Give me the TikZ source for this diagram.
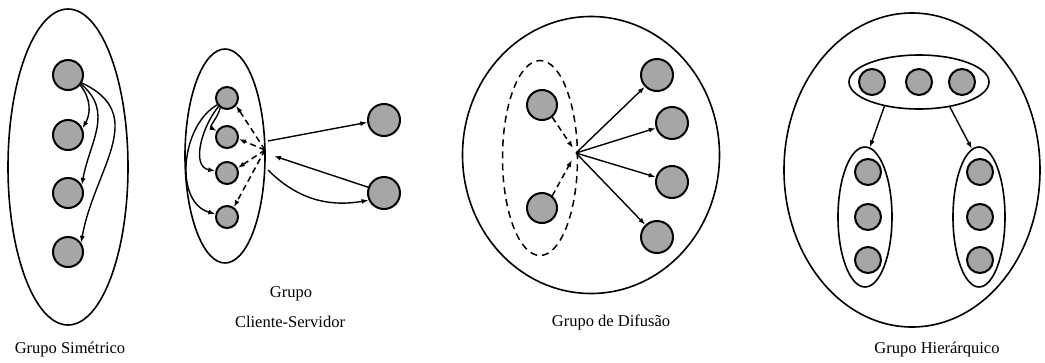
\documentclass[tikz,border=0pt]{standalone}
\usepackage{fontspec}
\setmainfont{Liberation Serif}
\usetikzlibrary{shapes.geometric,arrows.meta}
\tikzset{
  proc/.style={circle, draw=black, line width=2pt, fill=black!35, inner sep=0pt, minimum size=#1},
  proc/.default=30pt,
  grp/.style={ellipse, draw=black, line width=1.6pt, inner sep=0pt},
  arr/.style={line width=1.4pt, -{Latex[length=7pt,width=5pt]}},
  darr/.style={line width=1.5pt, dash pattern=on 6pt off 4pt, -{Latex[length=7pt,width=5pt]}},
  lbl/.style={font=\fontsize{16.5}{19}\selectfont, inner sep=0pt}
}
\begin{document}
\begin{tikzpicture}[x=1pt,y=1pt]
\useasboundingbox[fill=white] (0,0) rectangle (1045,-362);

% ---------- Grupo Simetrico ----------
\node[grp, minimum width=120pt, minimum height=316pt] (e1) at (68,-167) {};
\node[proc] (s1) at (68,-75) {};
\node[proc] (s2) at (68,-135) {};
\node[proc] (s3) at (68,-193) {};
\node[proc] (s4) at (68,-252) {};
\draw[arr] (s1.-40) to[out=-50,in=60] (s2.25);
\draw[arr] (s1.-35) to[out=-40,in=80,looseness=1.1] (s3.30);
\draw[arr] (s1.-30) to[out=-25,in=80,looseness=1.2] (s4.35);
\node[lbl] (l1) at (70,-350) {Grupo Simétrico};

% ---------- Grupo Cliente-Servidor ----------
\node[grp, minimum width=80pt, minimum height=214pt] (e2) at (225,-156) {};
\node[proc=22pt] (c1) at (227,-98) {};
\node[proc=22pt] (c2) at (227,-137) {};
\node[proc=22pt] (c3) at (227,-173) {};
\node[proc=22pt] (c4) at (227,-217) {};
\node[proc=32pt] (r1) at (384,-120) {};
\node[proc=32pt] (r2) at (384,-193) {};
\coordinate (p) at (265,-150);
\coordinate (pa) at (268,-141);
\coordinate (pb) at (274,-156);
\coordinate (pc) at (268,-170);
\draw[darr] (p) -- (c1.-40);
\draw[darr] (p) -- (c2.-10);
\draw[darr] (p) -- (c3.25);
\draw[darr] (p) -- (c4.55);
\draw[arr] (pa) -- (r1.188);
\draw[arr] (r2.160) -- (pb);
\draw[arr] (pc) to[out=-45,in=190] (r2.205);
\draw[arr] (c1.235) to[out=-100,in=150] (c2.150);
\draw[arr] (c1.225) to[out=-130,in=170] (c3.170);
\draw[arr] (c1.215) to[out=-150,in=165] (c4.165);
\node[lbl] (l2a) at (291,-294) {Grupo};
\node[lbl] (l2b) at (290,-322) {Cliente-Servidor};

% ---------- Grupo de Difusao ----------
\node[grp, minimum width=257pt, minimum height=277pt] (e3) at (591,-155) {};
\node[ellipse, draw=black, line width=1.5pt, dash pattern=on 7pt off 5pt, inner sep=0pt, minimum width=75pt, minimum height=195pt] (d3) at (540,-158) {};
\node[proc] (a1) at (542,-105) {};
\node[proc] (a2) at (542,-208) {};
\node[proc=32pt] (b1) at (657,-75) {};
\node[proc=32pt] (b2) at (672,-123) {};
\node[proc=32pt] (b3) at (672,-182) {};
\node[proc=32pt] (b4) at (657,-237) {};
\coordinate (q) at (576,-153);
\coordinate (qa) at (573,-148);
\coordinate (qb) at (572,-160);
\draw[darr] (a1.-50) -- (qa);
\draw[darr] (a2.50) -- (qb);
\draw[arr] (q) -- (b1);
\draw[arr] (q) -- (b2);
\draw[arr] (q) -- (b3);
\draw[arr] (q) -- (b4);
\node[lbl] (l3) at (611,-322) {Grupo de Difusão};

% ---------- Grupo Hierarquico ----------
\node[grp, minimum width=256pt, minimum height=314pt] (e4) at (912,-170) {};
\node[grp, minimum width=140pt, minimum height=54pt] (t) at (919,-82) {};
\node[proc=26pt] (h1) at (872,-82) {};
\node[proc=26pt] (h2) at (919,-82) {};
\node[proc=26pt] (h3) at (962,-82) {};
\node[grp, minimum width=54pt, minimum height=140pt] (L) at (865,-217) {};
\node[proc=26pt] (m1) at (868,-172) {};
\node[proc=26pt] (m2) at (868,-217) {};
\node[proc=26pt] (m3) at (868,-260) {};
\node[grp, minimum width=52pt, minimum height=140pt] (R) at (979,-217) {};
\node[proc=26pt] (n1) at (980,-172) {};
\node[proc=26pt] (n2) at (980,-217) {};
\node[proc=26pt] (n3) at (980,-260) {};
\draw[arr] (t.215) -- (L.86);
\draw[arr] (t.-39) -- (R.96);
\node[lbl] (l4) at (937,-350) {Grupo Hierárquico};
\end{tikzpicture}
\end{document}
